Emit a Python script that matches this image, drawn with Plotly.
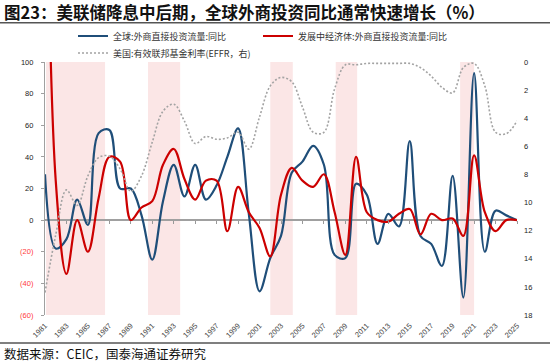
import plotly.graph_objects as go

years = list(range(1981, 2026))

global_fdi_yoy = [29, -18, -12, 13, -3, 55, 57, 20, 20, 3,
                  -25, 12, 35, 15, 35, 13, 22, 40, 58, 4,
                  -45, -24, -10, 30, 37, 47, 35, -22, -24, 23,
                  16, -15, 4, -4, 50, -10, -15, -29, 28, -49,
                  93, -20, 6, 3, 0]

developing_fdi_yoy = [300, 25, -34, 0, -20, 14, 40, 37, 0, 8,
                      12, 35, 45, 26, 13, 25, 25, -7, 21, 5,
                      -5, -23, 16, 33, 25, 21, 29, 5, -22, 40,
                      5, 0, -1, 4, 7, -9, 4, 0, 1, -10,
                      41, 5, -7, 0, 0]

effr = [16.4, 12.3, 9.1, 10.2, 8.1, 6.8, 6.7, 7.6, 9.2, 8.1,
        5.7, 3.5, 3.0, 4.2, 5.8, 5.3, 5.5, 5.4, 5.0, 6.2,
        3.9, 1.7, 1.1, 1.4, 3.2, 5.0, 5.0, 1.9, 0.2, 0.2,
        0.1, 0.1, 0.1, 0.1, 0.1, 0.4, 1.0, 1.8, 2.2, 0.4,
        0.1, 1.7, 5.0, 5.1, 4.2]

# Fed easing periods (shaded)
easing_periods = [(1981.1, 1986.6), (1990.6, 1993.6), (2002.0, 2004.1),
                  (2008.1, 2010.1), (2019.7, 2021.0)]

x_tick_years = list(range(1981, 2026, 2))
left_ticks = [100, 80, 60, 40, 20, 0, -20, -40, -60]
right_ticks = list(range(0, 19, 2))

names = ["全球:外商直接投资流量:同比", "发展中经济体:外商直接投资流量:同比",
         "美国:有效联邦基金利率(EFFR，右)"]
title_text = "图23：美联储降息中后期，全球外商投资同比通常快速增长（%）"
source_text = "数据来源：CEIC，国泰海通证券研究"

W, H = 550, 364
L, R, T, B = 45, 33, 62, 49
PW, PH = W - L - R, H - T - B


def px_x(p):
    return (p - L) / PW


def px_y(p):
    return (H - B - p) / PH


def left_label(v):
    if v < 0:
        return '<span style="color:#ff3b3b">(%d)</span>' % (-v)
    return str(v)


CJK = "Noto Sans CJK SC"
NUM = "Liberation Sans"

fig = go.Figure()
fig.add_trace(go.Scatter(x=years, y=global_fdi_yoy, name=names[0], mode="lines",
                         line=dict(color="#1f4e79", width=2.2, shape="spline", smoothing=1),
                         legend="legend"))
fig.add_trace(go.Scatter(x=years, y=developing_fdi_yoy, name=names[1], mode="lines",
                         line=dict(color="#cc0000", width=2.2, shape="spline", smoothing=1),
                         legend="legend2"))
fig.add_trace(go.Scatter(x=years, y=effr, name=names[2], mode="lines",
                         line=dict(color="#a3a3a3", width=1.6, dash="2px,2px",
                                   shape="spline", smoothing=1),
                         xaxis="x2", yaxis="y2", legend="legend3"))

shapes = []
for a, b in easing_periods:
    shapes.append(dict(type="rect", xref="x", yref="paper", x0=a, x1=b, y0=0, y1=1,
                       fillcolor="#fbe6e6", line=dict(width=0), layer="below"))
# header / footer rules
shapes.append(dict(type="line", xref="paper", yref="paper", x0=px_x(0), x1=px_x(W),
                   y0=px_y(22.7), y1=px_y(22.7), line=dict(color="#555555", width=1.5)))
shapes.append(dict(type="line", xref="paper", yref="paper", x0=px_x(0), x1=px_x(W),
                   y0=px_y(343), y1=px_y(343), line=dict(color="#555555", width=1.5)))

annotations = [
    dict(text="<b>" + title_text + "</b>", xref="paper", yref="paper", x=px_x(2), y=px_y(12),
         xanchor="left", yanchor="middle", showarrow=False,
         font=dict(family=CJK, size=16.5, color="#111111")),
    dict(text=source_text, xref="paper", yref="paper", x=px_x(2), y=px_y(353),
         xanchor="left", yanchor="middle", showarrow=False,
         font=dict(family=CJK, size=12.5, color="#111111")),
]

leg_common = dict(xref="container", yref="container", yanchor="middle", xanchor="left",
                  orientation="h", bgcolor="rgba(0,0,0,0)", itemwidth=30,
                  font=dict(family=CJK, size=9, color="#333333"))

fig.update_layout(
    width=W, height=H,
    margin=dict(l=L, r=R, t=T, b=B, autoexpand=False),
    paper_bgcolor="white", plot_bgcolor="white",
    showlegend=True,
    legend=dict(x=73 / W, y=1 - 36 / H, **leg_common),
    legend2=dict(x=258 / W, y=1 - 36 / H, **leg_common),
    legend3=dict(x=73 / W, y=1 - 53 / H, **leg_common),
    xaxis=dict(range=[1981, 2025], tickmode="array", tickvals=x_tick_years,
               ticktext=[str(y) for y in x_tick_years], tickangle=-45,
               showgrid=False, zeroline=False, showline=False, ticks="",
               ticklabelstandoff=4, automargin=False,
               tickfont=dict(family=NUM, size=7.5, color="#444444")),
    xaxis2=dict(range=[1981, 2025], overlaying="x", anchor="free", position=60 / 160,
                tickmode="array", tickvals=x_tick_years[1:], ticks="outside", ticklen=3,
                tickcolor="#999999", showticklabels=False, showgrid=False,
                zeroline=False, showline=False),
    yaxis=dict(range=[-60, 100], tickmode="array", tickvals=left_ticks,
               ticktext=[left_label(v) for v in left_ticks],
               showgrid=False, zeroline=True, zerolinecolor="#a0a0a0", zerolinewidth=1.5,
               showline=True, linecolor="#a0a0a0", linewidth=1.2, automargin=False,
               ticks="outside", ticklen=3, tickcolor="#a0a0a0", ticklabelstandoff=6,
               tickfont=dict(family=NUM, size=7.5, color="#222222")),
    yaxis2=dict(range=[18, 0], overlaying="y", side="right", anchor="x2",
                tickmode="array", tickvals=right_ticks, automargin=False,
                showgrid=False, zeroline=False, showline=False, ticks="",
                ticklabelstandoff=6,
                tickfont=dict(family=NUM, size=7.5, color="#222222")),
    shapes=shapes,
    annotations=annotations,
)

fig.write_html("out.html", config={"displayModeBar": False},
               post_script="document.body.style.margin='0px';")
